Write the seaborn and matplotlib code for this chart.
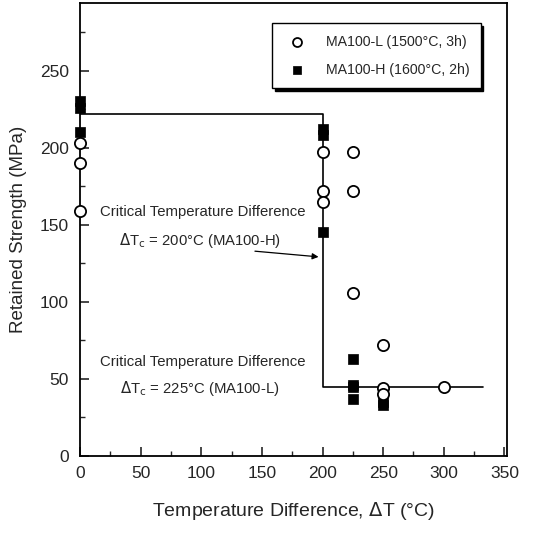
import matplotlib
matplotlib.use('Agg')
import matplotlib.pyplot as plt
from matplotlib.ticker import MultipleLocator
import pandas as pd
import seaborn as sns

# MA100-L (1500°C, 3h) - open circles
l_dt = [0, 0, 0, 200, 200, 200, 225, 225, 225, 250, 250, 250, 300]
l_strength = [203, 190, 159, 197, 172, 165, 197, 172, 106, 72, 44, 40, 45]

# MA100-H (1600°C, 2h) - filled squares
h_dt = [0, 0, 0, 200, 200, 200, 225, 225, 225, 225, 250, 250]
h_strength = [230, 226, 210, 212, 208, 145, 63, 46, 45, 37, 35, 33]

# step guide line
step_x = [0, 200, 200, 332]
step_y = [222, 222, 45, 45]

sns.set_style('white')
plt.rcParams['font.family'] = ['Liberation Sans', 'DejaVu Sans']

df_l = pd.DataFrame({'dt': l_dt, 'strength': l_strength})
df_h = pd.DataFrame({'dt': h_dt, 'strength': h_strength})

fig = plt.figure(figsize=(5.33, 5.52), dpi=100)
ax = fig.add_axes([0.150, 0.174, 0.801, 0.821])

ax.plot(step_x, step_y, color='black', lw=1.2, zorder=2)

sns.scatterplot(data=df_l, x='dt', y='strength', marker='o', s=65, facecolor='white',
                edgecolor='black', linewidth=1.3, label='MA100-L (1500°C, 3h)', ax=ax,
                zorder=4, clip_on=False)
sns.scatterplot(data=df_h, x='dt', y='strength', marker='s', s=50, color='black',
                edgecolor='black', linewidth=0.5, label='MA100-H (1600°C, 2h)', ax=ax,
                zorder=3, clip_on=False)

fs = 10.7
ax.text(101, 158, 'Critical Temperature Difference', ha='center', va='center', fontsize=fs)
ax.text(99, 140, r'$\Delta$T$_{\mathrm{c}}$ = 200°C (MA100-H)', ha='center', va='center', fontsize=fs)
ax.text(101, 61, 'Critical Temperature Difference', ha='center', va='center', fontsize=fs)
ax.text(99, 43.5, r'$\Delta$T$_{\mathrm{c}}$ = 225°C (MA100-L)', ha='center', va='center', fontsize=fs)
ax.annotate('', xy=(199, 129), xytext=(142, 133),
            arrowprops=dict(arrowstyle='-|>', color='black', lw=0.9, mutation_scale=9))

ax.set_xlim(0, 352)
ax.set_ylim(0, 294)
ax.xaxis.set_major_locator(MultipleLocator(50))
ax.xaxis.set_minor_locator(MultipleLocator(25))
ax.yaxis.set_major_locator(MultipleLocator(50))
ax.yaxis.set_minor_locator(MultipleLocator(25))
ax.tick_params(which='both', bottom=True, left=True, top=False, right=False)
ax.tick_params(which='major', direction='in', length=6.5, width=1.2, labelsize=12.5)
ax.tick_params(which='minor', direction='in', length=3.5, width=1)
ax.tick_params(axis='x', pad=7)
ax.tick_params(axis='y', pad=8)
for sp in ax.spines.values():
    sp.set_linewidth(1.3)
    sp.set_color('black')

ax.set_xlabel(r'Temperature Difference, $\Delta$T (°C)', fontsize=14, labelpad=14)
ax.set_ylabel('Retained Strength (MPa)', fontsize=13.5, labelpad=9)

leg = ax.legend(loc='upper right', bbox_to_anchor=(0.955, 0.97), frameon=True, fancybox=False,
                shadow={'color': 'black', 'alpha': 1}, edgecolor='black', fontsize=10.2,
                handletextpad=1.0, borderpad=0.8, labelspacing=1.0, markerscale=0.8)
leg.get_frame().set_linewidth(1.0)

fig.savefig('out.png', dpi=100)
